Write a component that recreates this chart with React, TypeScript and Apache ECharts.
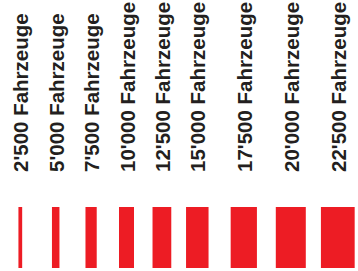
import React, { useEffect, useRef } from "react";
import * as echarts from "echarts";

// Legend entries: traffic volume (vehicles per day) -> line width
const labels = [
  "2'500 Fahrzeuge",
  "5'000 Fahrzeuge",
  "7'500 Fahrzeuge",
  "10'000 Fahrzeuge",
  "12'500 Fahrzeuge",
  "15'000 Fahrzeuge",
  "17'500 Fahrzeuge",
  "20'000 Fahrzeuge",
  "22'500 Fahrzeuge",
];
const volumes = [2500, 5000, 7500, 10000, 12500, 15000, 17500, 20000, 22500];
// the legend is laid out in two groups (first six narrower, last three wider)
const firstGroupSize = 6;

const RED = "#ED1C24";
const TEXT = "#231F20";
const PX_PER_VEHICLE = 0.0015;
const LABEL_BOTTOM_Y = 172;

export default function App() {
  const ref = useRef<HTMLDivElement>(null);

  useEffect(() => {
    if (!ref.current) return;
    const chart = echarts.init(ref.current, null, { renderer: "svg" });

    const renderItem = (params: any, api: any) => {
      const k = api.value(0);
      const vol = api.value(1);
      const gi = api.value(2);
      const top = api.coord([k, 1]);
      const bottom = api.coord([k, 0]);
      const w = vol * PX_PER_VEHICLE;
      return {
        type: "group",
        children: [
          {
            type: "rect",
            shape: { x: top[0] - w / 2, y: top[1], width: w, height: bottom[1] - top[1] },
            style: { fill: RED },
          },
          {
            type: "text",
            x: top[0] + 0.5,
            y: LABEL_BOTTOM_Y,
            rotation: Math.PI / 2,
            style: {
              text: labels[gi],
              fill: TEXT,
              fontSize: 20.5,
              fontWeight: "bold",
              fontFamily: "'Liberation Sans', Arial, sans-serif",
              align: "left",
              verticalAlign: "middle",
            },
          },
        ],
      };
    };

    const groupA = labels.slice(0, firstGroupSize);
    const groupB = labels.slice(firstGroupSize);
    const dataA = groupA.map((_, i) => [i, volumes[i], i]);
    const dataB = groupB.map((_, i) => [i, volumes[firstGroupSize + i], firstGroupSize + i]);

    const hiddenAxis = {
      axisLine: { show: false },
      axisTick: { show: false },
      axisLabel: { show: false },
      splitLine: { show: false },
    };

    chart.setOption({
      animation: false,
      grid: [
        { left: 20.3, right: 160.7, top: 207, bottom: 3 },
        { left: 243.8, right: 20.2, top: 207, bottom: 3 },
      ],
      xAxis: [
        { type: "category", gridIndex: 0, data: groupA, boundaryGap: false, ...hiddenAxis },
        { type: "category", gridIndex: 1, data: groupB, boundaryGap: false, ...hiddenAxis },
      ],
      yAxis: [
        { type: "value", gridIndex: 0, min: 0, max: 1, ...hiddenAxis },
        { type: "value", gridIndex: 1, min: 0, max: 1, ...hiddenAxis },
      ],
      series: [
        {
          type: "custom",
          xAxisIndex: 0,
          yAxisIndex: 0,
          renderItem,
          data: dataA,
          clip: false,
          encode: { x: 0 },
        },
        {
          type: "custom",
          xAxisIndex: 1,
          yAxisIndex: 1,
          renderItem,
          data: dataB,
          clip: false,
          encode: { x: 0 },
        },
      ],
    });

    return () => chart.dispose();
  }, []);

  return (
    <div
      ref={ref}
      style={{ position: "fixed", left: 0, top: 0, width: 358, height: 271, background: "#fff" }}
    />
  );
}
